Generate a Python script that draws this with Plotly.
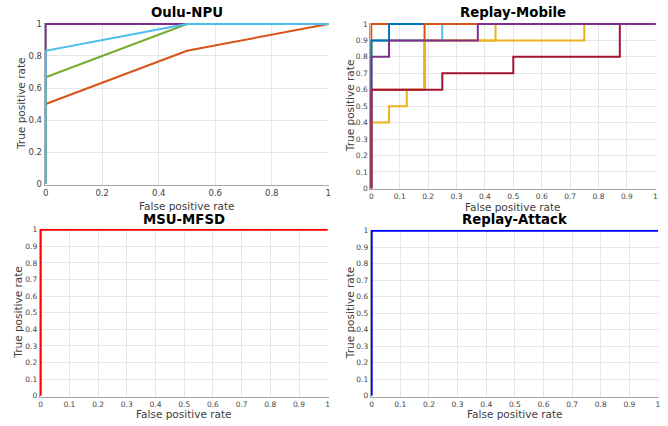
import plotly.graph_objects as go

# ---------------- data ----------------
# Oulu-NPU ROC curves (FPR, TPR)
oulu_orange_fpr = [0, 0, 0.5, 1]
oulu_orange_tpr = [0, 0.5, 0.833, 1]
oulu_purple_fpr = [0, 0, 1]
oulu_purple_tpr = [0, 1, 1]
oulu_green_fpr = [0, 0, 0.5, 1]
oulu_green_tpr = [0, 0.667, 1, 1]
oulu_lblue_fpr = [0, 0, 0.5, 1]
oulu_lblue_tpr = [0, 0.833, 1, 1]

# Replay-Mobile ROC curves (step)
rm_orange1_fpr = [0, 0, 1]
rm_orange1_tpr = [0, 1, 1]
rm_yellow2_fpr = [0, 0, 0.4375, 0.4375, 1]
rm_yellow2_tpr = [0, 0.9, 0.9, 1, 1]
rm_lblue_fpr = [0, 0, 0.25, 0.25, 1]
rm_lblue_tpr = [0, 0.9, 0.9, 1, 1]
rm_blue_fpr = [0, 0, 0.0625, 0.0625, 1]
rm_blue_tpr = [0, 0.9, 0.9, 1, 1]
rm_orange2_fpr = [0, 0, 0.1875, 0.1875, 1]
rm_orange2_tpr = [0, 0.6, 0.6, 1, 1]
rm_yellow_fpr = [0, 0, 0.0625, 0.0625, 0.125, 0.125, 0.1875, 0.1875, 0.75, 0.75, 1]
rm_yellow_tpr = [0, 0.4, 0.4, 0.5, 0.5, 0.6, 0.6, 0.9, 0.9, 1, 1]
rm_red_fpr = [0, 0, 0.25, 0.25, 0.5, 0.5, 0.875, 0.875, 1]
rm_red_tpr = [0, 0.6, 0.6, 0.7, 0.7, 0.8, 0.8, 1, 1]
rm_purple_fpr = [0, 0, 0.0625, 0.0625, 0.375, 0.375, 1]
rm_purple_tpr = [0, 0.8, 0.8, 0.9, 0.9, 1, 1]

# MSU-MFSD and Replay-Attack
msu_fpr = [0, 0, 1]
msu_tpr = [0, 1, 1]
ra_fpr = [0, 0, 1]
ra_tpr = [0, 1, 1]

titles = ["Oulu-NPU", "Replay-Mobile", "MSU-MFSD", "Replay-Attack"]
x_title = "False positive rate"
y_title = "True positive rate"
oulu_ticks = [0, 0.2, 0.4, 0.6, 0.8, 1]
fine_ticks = [0, 0.1, 0.2, 0.3, 0.4, 0.5, 0.6, 0.7, 0.8, 0.9, 1]

# ---------------- colours ----------------
C_BLUE = "rgb(0,114,189)"
C_ORANGE = "rgb(217,83,25)"
C_YELLOW = "rgb(237,177,32)"
C_PURPLE = "rgb(126,47,142)"
C_GREEN = "rgb(119,172,48)"
C_LBLUE = "rgb(77,190,238)"
C_DRED = "rgb(162,20,47)"

W, H = 668, 426
fig = go.Figure()

def add(x, y, color, ax):
    fig.add_trace(go.Scatter(x=x, y=y, mode="lines", line=dict(color=color, width=2),
                             xaxis="x" + ax, yaxis="y" + ax, showlegend=False,
                             hoverinfo="skip", cliponaxis=False))

add(oulu_orange_fpr, oulu_orange_tpr, C_ORANGE, "")
add(oulu_purple_fpr, oulu_purple_tpr, C_PURPLE, "")
add(oulu_green_fpr, oulu_green_tpr, C_GREEN, "")
add(oulu_lblue_fpr, oulu_lblue_tpr, C_LBLUE, "")

add(rm_orange1_fpr, rm_orange1_tpr, C_ORANGE, "2")
add(rm_yellow2_fpr, rm_yellow2_tpr, C_YELLOW, "2")
add(rm_lblue_fpr, rm_lblue_tpr, C_LBLUE, "2")
add(rm_blue_fpr, rm_blue_tpr, C_BLUE, "2")
add(rm_orange2_fpr, rm_orange2_tpr, C_ORANGE, "2")
add(rm_yellow_fpr, rm_yellow_tpr, C_YELLOW, "2")
add(rm_red_fpr, rm_red_tpr, C_DRED, "2")
add(rm_purple_fpr, rm_purple_tpr, C_PURPLE, "2")

add(msu_fpr, msu_tpr, "rgb(255,0,0)", "3")
add(ra_fpr, ra_tpr, "rgb(0,0,255)", "4")

# pixel boxes: (x0, x1, ytop, ybottom)
boxes = [
    (44.7, 329.3, 23, 185),
    (370.3, 656.3, 23, 189.3),
    (39.7, 328.7, 228.7, 396.7),
    (370.7, 659, 229.7, 396.7),
]
# title centre y, x-title centre y, y-title centre x
title_y = [13, 13, 219, 219.5]
xlab_y = [206, 206.5, 414, 414]
ylab_x = [21, 350, 18, 350]
tick_sets = [oulu_ticks, fine_ticks, fine_ticks, fine_ticks]
tick_sizes = [8.5, 7.5, 7.5, 7.5]
LAB = dict(size=10.5, color="#404040", family="DejaVu Sans")

layout = dict(width=W, height=H, margin=dict(l=0, r=0, t=0, b=0, autoexpand=False),
              paper_bgcolor="white", plot_bgcolor="white",
              font=dict(family="DejaVu Sans", color="#333333"), annotations=[])
for i, (x0, x1, yt, yb) in enumerate(boxes):
    suf = "" if i == 0 else str(i + 1)
    padx = 1.0 / (x1 - x0)
    pady = 1.0 / (yb - yt)
    common = dict(showgrid=True, gridcolor="#e6e6e6", gridwidth=1, zeroline=False,
                  showline=True, linecolor="#a6a6a6", linewidth=1, automargin=False,
                  ticks="", tickfont=dict(size=tick_sizes[i], color="#444444"),
                  tickvals=tick_sets[i], ticktext=[("%g" % v) for v in tick_sets[i]],
                  fixedrange=True)
    layout["xaxis" + suf] = dict(common, domain=[x0 / W, x1 / W], range=[-padx, 1 + padx],
                                  anchor="y" + suf)
    layout["yaxis" + suf] = dict(common, domain=[1 - yb / H, 1 - yt / H], range=[-pady, 1 + pady],
                                  anchor="x" + suf)
    cx = (x0 + x1) / 2 / W
    layout["annotations"].append(dict(text="<b>%s</b>" % titles[i], x=cx,
                                      y=1 - title_y[i] / H, xref="paper", yref="paper",
                                      xanchor="center", yanchor="middle", showarrow=False,
                                      font=dict(size=13.3, color="black", family="DejaVu Sans")))
    layout["annotations"].append(dict(text=x_title, x=cx, y=1 - xlab_y[i] / H,
                                      xref="paper", yref="paper", xanchor="center",
                                      yanchor="middle", showarrow=False, font=LAB))
    layout["annotations"].append(dict(text=y_title, x=ylab_x[i] / W,
                                      y=1 - (yt + yb) / 2 / H, textangle=-90,
                                      xref="paper", yref="paper", xanchor="center",
                                      yanchor="middle", showarrow=False, font=LAB))

fig.update_layout(**layout)
fig.write_html("out.html", config={"displayModeBar": False, "staticPlot": True},
               post_script="document.body.style.margin='0px';document.body.style.overflow='hidden';")
